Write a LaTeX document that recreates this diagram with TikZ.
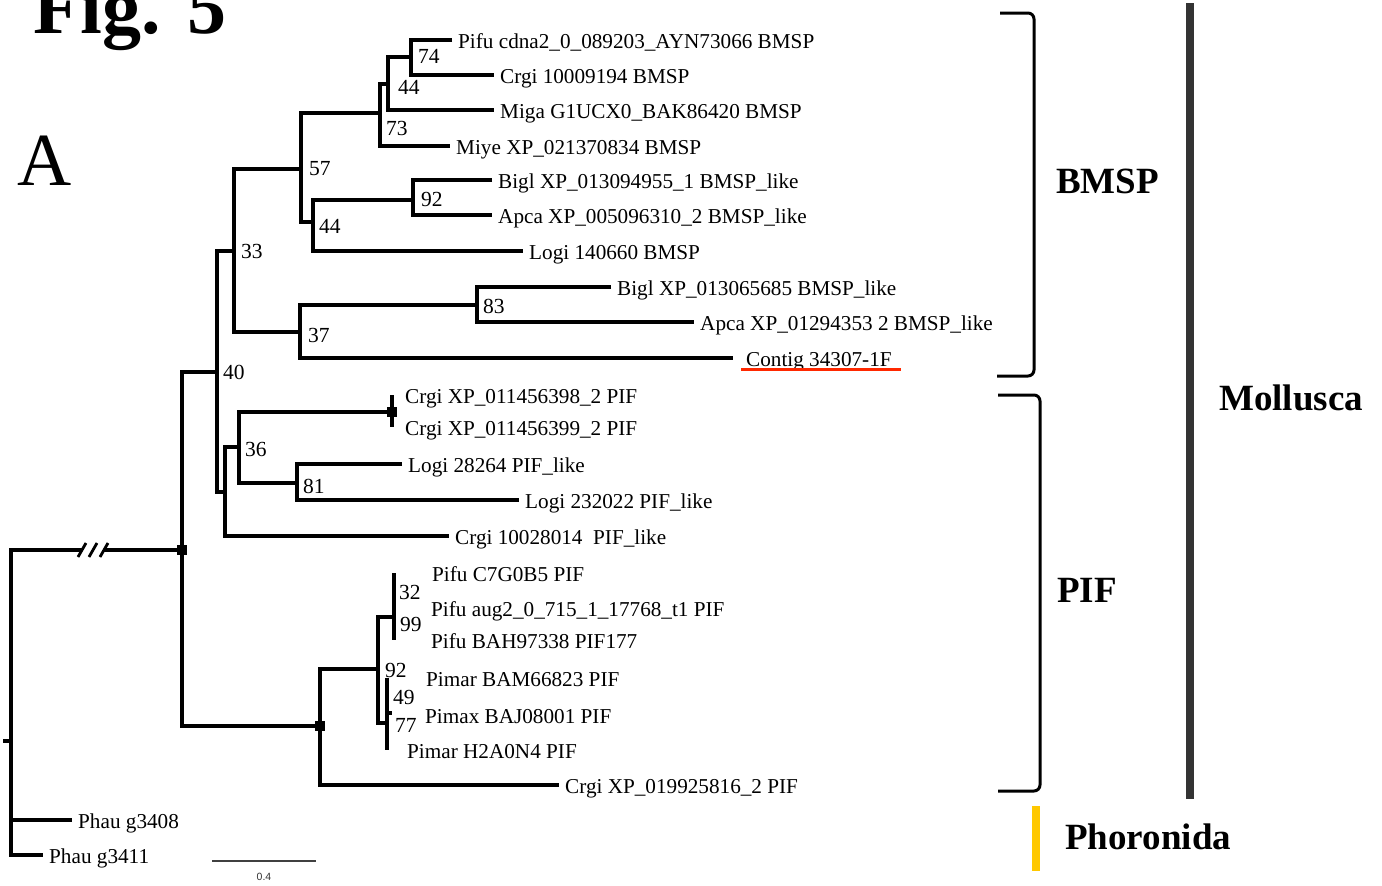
\documentclass[tikz,border=0pt]{standalone}
\usepackage{fontspec}
\setmainfont{Liberation Serif}
\newfontfamily\scalebarfont{Liberation Sans}
\usetikzlibrary{calc}
\definecolor{phoroyellow}{RGB}{255,200,0}
\definecolor{molgray}{RGB}{51,51,51}
\definecolor{markred}{RGB}{255,40,0}

\begin{document}
\begin{tikzpicture}[x=1pt,y=-1pt,
  br/.style={line width=3.2pt},
  leaf/.style={anchor=west,inner xsep=6pt,inner ysep=0pt,text height=16pt,text depth=0pt,font=\fontsize{21.2}{24}\selectfont},
  boot/.style={anchor=west,inner sep=0pt,font=\fontsize{21.5}{24}\selectfont},
  clade/.style={anchor=west,inner sep=0pt,font=\bfseries\fontsize{37}{40}\selectfont},
  sq/.style={fill=black,inner sep=0pt,minimum size=10pt},
  brk/.style={line width=3pt,rounded corners=6pt}]
  \path[fill=white,use as bounding box] (0,0) rectangle (1382,886);

  % 标题
  \node[anchor=base west,inner sep=0pt,font=\bfseries\fontsize{78}{80}\selectfont] (fig) at (33,33) {Fig. 5};
  \node[anchor=base west,inner sep=0pt,font=\fontsize{75}{78}\selectfont] (panA) at (17,185) {A};

  % 叶节点 (BMSP)
  \node[leaf] (L1) at (452,40) {Pifu cdna2\_0\_089203\_AYN73066 BMSP};
  \node[leaf] (L2) at (494,75) {Crgi 10009194 BMSP};
  \node[leaf] (L3) at (494,110) {Miga G1UCX0\_BAK86420 BMSP};
  \node[leaf] (L4) at (450,146) {Miye XP\_021370834 BMSP};
  \node[leaf] (L5) at (492,180) {Bigl XP\_013094955\_1 BMSP\_like};
  \node[leaf] (L6) at (492,215) {Apca XP\_005096310\_2 BMSP\_like};
  \node[leaf] (L7) at (523,251) {Logi 140660 BMSP};
  \node[leaf] (L8) at (611,287) {Bigl XP\_013065685 BMSP\_like};
  \node[leaf] (L9) at (694,322) {Apca XP\_01294353 2 BMSP\_like};
  \node[leaf,inner xsep=13pt] (L10) at (733,358) {Contig 34307-1F};
  % 叶节点 (PIF)
  \node[leaf] (L11) at (399,395) {Crgi XP\_011456398\_2 PIF};
  \node[leaf] (L12) at (399,427) {Crgi XP\_011456399\_2 PIF};
  \node[leaf] (L13) at (402,464) {Logi 28264 PIF\_like};
  \node[leaf] (L14) at (519,500) {Logi 232022 PIF\_like};
  \node[leaf] (L15) at (449,536) {Crgi 10028014\ \ PIF\_like};
  \node[leaf] (L16) at (426,573) {Pifu C7G0B5 PIF};
  \node[leaf] (L17) at (425,608) {Pifu aug2\_0\_715\_1\_17768\_t1 PIF};
  \node[leaf] (L18) at (425,640) {Pifu BAH97338 PIF177};
  \node[leaf] (L19) at (420,678) {Pimar BAM66823 PIF};
  \node[leaf] (L20) at (419,715) {Pimax BAJ08001 PIF};
  \node[leaf] (L21) at (401,750) {Pimar H2A0N4 PIF};
  \node[leaf] (L22) at (559,785) {Crgi XP\_019925816\_2 PIF};
  % 外群
  \node[leaf] (L23) at (72,820) {Phau g3408};
  \node[leaf] (L24) at (43,855) {Phau g3411};

  % 内部节点
  \coordinate (n74) at (411,57);
  \coordinate (n44a) at (388,84);
  \coordinate (n73) at (380,113);
  \coordinate (n57) at (301,169);
  \coordinate (n92a) at (413,200);
  \coordinate (n44b) at (313,222);
  \coordinate (n83) at (477,305);
  \coordinate (n37) at (300,332);
  \coordinate (n33) at (234,251);
  \coordinate (n40) at (217,372);
  \coordinate (nPa) at (225,492);
  \coordinate (n36) at (239,447);
  \coordinate (nCr) at (392,412);
  \coordinate (n81) at (297,483);
  \coordinate (nR) at (182,550);
  \coordinate (nPb) at (320,726);
  \coordinate (n92b) at (378,669);
  \coordinate (nP1) at (394,617);
  \coordinate (nP2) at (387,723);
  \coordinate (nB) at (11,741);
  \coordinate (brkL) at (82,550);
  \coordinate (brkR) at (104,550);

  % 分支
  \draw[br] (L1.west) -| (n74) |- (L2.west);
  \draw[br] (n74) -| (n44a) |- (L3.west);
  \draw[br] (n44a) -| (n73) |- (L4.west);
  \draw[br] (n73) -| (n57) |- (n44b);
  \draw[br] (L5.west) -| (n92a) |- (L6.west);
  \draw[br] (n92a) -| (n44b) |- (L7.west);
  \draw[br] (n57) -| (n33) |- (n37);
  \draw[br] (L8.west) -| (n83) |- (L9.west);
  \draw[br] (n83) -| (n37) |- (L10.west);
  \draw[br] (n33) -| (n40) |- (nPa);
  \draw[br] (n36) -| (nPa) |- (L15.west);
  \draw[br] (nCr) -| (n36) |- (n81);
  \draw[br] (L13.west) -| (n81) |- (L14.west);
  \draw[br] (nCr |- L11.west) -- (nCr |- L12.west);
  \draw[br] (n40) -| (nR) |- (nPb);
  \draw[br] (n92b) -| (nPb) |- (L22.west);
  \draw[br] (nP1) -| (n92b) |- (nP2);
  \draw[br] (nP1 |- L16.west) -- (nP1 |- L18.west);
  \draw[br] (nP2 |- L19.west) -- (nP2 |- L21.west);
  \draw[br] ($(nP2 |- L20.west)+(0,-2)$) -- ++(5,0);
  \draw[br] (nR) -- (brkR);
  \draw[br] (brkL) -| (nB) |- (L24.west);
  \draw[br] (nB |- L23.west) -- (L23.west);
  \draw[br] (nB) -- ++(-8,0);
  \foreach \dx in {0,11,22}
    \draw[line width=2.8pt] ($(brkL)+(\dx-4,7)$) -- ++(8,-14);
  \node[sq] (sqR) at (nR) {};
  \node[sq] (sqPb) at (nPb) {};
  \node[sq] (sqCr) at (nCr) {};

  % 自展值
  \node[boot] (b74) at (418,56) {74};
  \node[boot] (b44a) at (398,87) {44};
  \node[boot] (b73) at (386,128) {73};
  \node[boot] (b57) at (309,169) {57};
  \node[boot] (b92a) at (421,199) {92};
  \node[boot] (b44b) at (319,226) {44};
  \node[boot] (b33) at (241,251) {33};
  \node[boot] (b83) at (483,306) {83};
  \node[boot] (b37) at (308,335) {37};
  \node[boot] (b40) at (223,372) {40};
  \node[boot] (b36) at (245,449) {36};
  \node[boot] (b81) at (303,486) {81};
  \node[boot] (b32) at (399,592) {32};
  \node[boot] (b99) at (400,624) {99};
  \node[boot] (b92b) at (385,670) {92};
  \node[boot] (b49) at (393,697) {49};
  \node[boot] (b77) at (395,725) {77};

  % 标记
  \draw[markred,line width=3pt] ($(L10.south west)+(8,3)$) -- ($(L10.south east)+(-4,3)$);

  % 标尺
  \coordinate (sbL) at (212,861);
  \coordinate (sbR) at (316,861);
  \draw[black!75,line width=1.5pt] (sbL) -- (sbR);
  \node[inner sep=0pt,font=\scalebarfont\fontsize{10.5}{12}\selectfont,text=black!80] (sbt) at (264,877) {0.4};

  % 类群括号
  \draw[brk] (1000,13) -- (1034,13) -- (1034,376) -- (997,376);
  \draw[brk] (998,395) -- (1040,395) -- (1040,791) -- (998,791);
  \draw[molgray,line width=8pt] (1190,3) -- (1190,799);
  \draw[phoroyellow,line width=8pt] (1036,806) -- (1036,871);
  \node[clade] (cBMSP) at (1056,181) {BMSP};
  \node[clade] (cMol) at (1219,398) {Mollusca};
  \node[clade] (cPIF) at (1057,590) {PIF};
  \node[clade] (cPho) at (1065,837) {Phoronida};
\end{tikzpicture}
\end{document}
